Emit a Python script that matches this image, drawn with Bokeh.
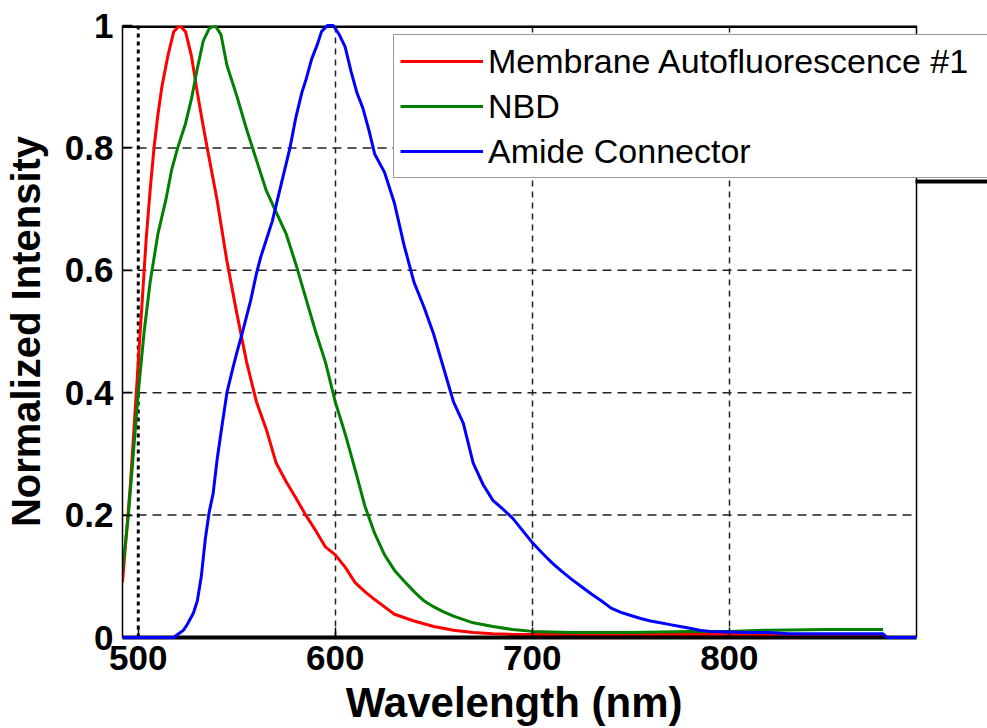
from bokeh.plotting import figure
from bokeh.models import Span, FixedTicker, Legend, LegendItem, BoxAnnotation, Range1d
from bokeh.embed import file_html
from bokeh.resources import INLINE

# ---------------- data ----------------
series_names = ["Membrane Autofluorescence #1", "NBD", "Amide Connector"]

red_wl = [492, 494, 496, 498, 500, 502, 504, 506, 508, 510, 512, 515, 518, 521, 524,
          527, 530, 533, 535, 540, 545, 550, 555, 560, 565, 570, 575, 580, 585, 590,
          595, 600, 605, 610, 615, 620, 625, 630, 640, 650, 660, 670, 680, 690, 700,
          750, 800, 825, 850, 878]
red_val = [0.09, 0.17, 0.25, 0.35, 0.45, 0.55, 0.65, 0.73, 0.80, 0.855, 0.90, 0.95, 0.99, 1.0, 0.99,
           0.95, 0.89, 0.835, 0.80, 0.715, 0.615, 0.53, 0.45, 0.385, 0.34, 0.285, 0.255, 0.228, 0.20, 0.175,
           0.148, 0.135, 0.115, 0.09, 0.075, 0.062, 0.05, 0.038, 0.027, 0.018, 0.012, 0.008, 0.006, 0.005, 0.005,
           0.005, 0.005, 0.005, 0.004, 0.004]

green_wl = [492, 495, 497, 500, 503, 506, 510, 514, 517, 520, 524, 527, 530, 533, 536,
            539, 542, 545, 550, 555, 560, 565, 570, 575, 580, 585, 590, 595, 600, 605,
            610, 615, 620, 625, 630, 635, 640, 645, 650, 655, 660, 670, 680, 690, 700,
            720, 750, 780, 800, 820, 850, 878]
green_val = [0.11, 0.2, 0.28, 0.4, 0.5, 0.58, 0.66, 0.715, 0.765, 0.80, 0.84, 0.88, 0.93, 0.975, 0.995,
             1.0, 0.985, 0.935, 0.885, 0.83, 0.78, 0.73, 0.695, 0.66, 0.61, 0.555, 0.50, 0.45, 0.385, 0.333,
             0.275, 0.215, 0.17, 0.135, 0.11, 0.092, 0.075, 0.06, 0.05, 0.042, 0.035, 0.024, 0.018, 0.013, 0.01,
             0.008, 0.008, 0.01, 0.01, 0.012, 0.013, 0.013]

blue_wl = [492, 518, 520, 523, 525, 528, 530, 532, 534, 536, 538, 540, 542, 545, 548,
           550, 553, 555, 557, 560, 562, 565, 568, 571, 574, 577, 580, 583, 585, 588,
           591, 593, 596, 599, 602, 605, 608, 611, 614, 617, 620, 625, 630, 635, 640,
           645, 650, 655, 660, 665, 670, 675, 680, 685, 690, 695, 700, 705, 710, 715,
           720, 725, 730, 735, 740, 745, 750, 755, 760, 765, 770, 775, 780, 785, 790,
           800, 810, 820, 830, 850, 878, 880, 895]
blue_val = [0, 0, 0.005, 0.012, 0.022, 0.04, 0.06, 0.1, 0.16, 0.205, 0.235, 0.29, 0.335, 0.40, 0.44,
            0.465, 0.50, 0.525, 0.55, 0.595, 0.62, 0.65, 0.68, 0.72, 0.76, 0.80, 0.85, 0.89, 0.91, 0.945,
            0.97, 0.99, 1.0, 1.0, 0.985, 0.965, 0.925, 0.89, 0.865, 0.83, 0.79, 0.76, 0.71, 0.64, 0.58,
            0.54, 0.495, 0.44, 0.385, 0.35, 0.285, 0.25, 0.224, 0.21, 0.195, 0.175, 0.155, 0.138, 0.122, 0.108,
            0.095, 0.083, 0.071, 0.06, 0.048, 0.041, 0.036, 0.031, 0.027, 0.024, 0.021, 0.018, 0.015, 0.012, 0.01,
            0.009, 0.008, 0.008, 0.006, 0.006, 0.006, 0, 0]

x_limits = (492, 895)
y_limits = (0, 1)
x_ticks = [500, 600, 700, 800]
x_tick_labels = ["500", "600", "700", "800"]
x_grid_ticks = [600, 700, 800]
marker_wl = 500
y_ticks = [0, 0.2, 0.4, 0.6, 0.8, 1]
y_tick_labels = ["0", "0.2", "0.4", "0.6", "0.8", "1"]
y_grid_ticks = [0.2, 0.4, 0.6, 0.8]
x_title = "Wavelength (nm)"
y_title = "Normalized Intensity"

FONT = "Liberation Sans"

# layout: axes box spans 122..916 px horizontally; the frame is widened to the
# window edge so the legend can run past the right side of the axes box.
W, H = 987, 728
BOX_LEFT, BOX_RIGHT = 122, 916
view_end = x_limits[0] + (W - BOX_LEFT) * (x_limits[1] - x_limits[0]) / (BOX_RIGHT - BOX_LEFT)

p = figure(width=W, height=H, output_backend="svg", toolbar_location=None,
           x_range=Range1d(x_limits[0], view_end), y_range=Range1d(*y_limits),
           min_border_left=BOX_LEFT, min_border_right=0, min_border_top=25, min_border_bottom=91)
p.background_fill_color = "white"
p.border_fill_color = "white"
p.outline_line_color = None

# grids
p.xgrid.ticker = FixedTicker(ticks=x_grid_ticks)
p.xgrid.grid_line_color = "#222222"
p.xgrid.grid_line_dash = "6 5"
p.xgrid.grid_line_width = 1.5
p.ygrid.visible = False
p.segment(x0=[x_limits[0]] * len(y_grid_ticks), x1=[x_limits[1]] * len(y_grid_ticks),
          y0=y_grid_ticks, y1=y_grid_ticks, line_color="#222222", line_width=1.5,
          line_dash="9 6", level="underlay")

p.add_layout(Span(location=marker_wl, dimension="height", line_color="black",
                  line_width=3, line_dash="4 4", level="underlay"))

# axes
p.xaxis.ticker = FixedTicker(ticks=x_ticks)
p.xaxis.major_label_overrides = dict(zip(x_ticks, x_tick_labels))
p.xaxis.bounds = x_limits
p.yaxis.ticker = FixedTicker(ticks=y_ticks)
p.yaxis.major_label_overrides = dict(zip(y_ticks, y_tick_labels))
for ax in (p.xaxis[0], p.yaxis[0]):
    ax.major_tick_in = 10
    ax.major_tick_out = 0
    ax.minor_tick_line_color = None
    ax.major_tick_line_color = "black"
    ax.major_tick_line_width = 1.5
    ax.major_label_text_font = FONT
    ax.major_label_text_font_style = "bold"
    ax.major_label_text_font_size = "35px"
    ax.major_label_text_color = "black"
    ax.axis_line_color = "black"
    ax.axis_label_text_font = FONT
    ax.axis_label_text_font_style = "bold"
    ax.axis_label_text_color = "black"
p.xaxis.axis_line_width = 4
p.yaxis.axis_line_width = 1.5
p.xaxis.major_label_standoff = 8
p.yaxis.major_label_standoff = 9

p.yaxis.axis_label = y_title
p.yaxis.axis_label_text_font_size = "40px"
p.yaxis.axis_label_standoff = 14
# the frame runs on past the axes box, so trailing no-break spaces pull the
# centred title back over the middle of the axes box
p.xaxis.axis_label = x_title + "\u00a0" * 7
p.xaxis.axis_label_text_font_size = "42px"
p.xaxis.axis_label_standoff = 6

# top and right edges of the axes box
p.segment(x0=[x_limits[0]], x1=[x_limits[1]], y0=[y_limits[1]], y1=[y_limits[1]],
          line_color="black", line_width=5)
p.segment(x0=[x_limits[1]], x1=[x_limits[1]], y0=[y_limits[0]], y1=[y_limits[1]],
          line_color="black", line_width=1.5)

# data
r1 = p.line(red_wl, red_val, line_color="#ff0000", line_width=3)
r2 = p.line(green_wl, green_val, line_color="#008000", line_width=3)
r3 = p.line(blue_wl, blue_val, line_color="#0000ff", line_width=3, level="annotation")

legend = Legend(items=[LegendItem(label=series_names[0], renderers=[r1]),
                       LegendItem(label=series_names[1], renderers=[r2]),
                       LegendItem(label=series_names[2], renderers=[r3])],
                location=(271, 459))
legend.label_text_font = FONT
legend.label_text_font_size = "34px"
legend.label_text_color = "black"
legend.glyph_width = 83
legend.glyph_height = 40
legend.label_height = 40
legend.label_width = 520
legend.spacing = 5
legend.padding = 6
legend.margin = 0
legend.label_standoff = 5
legend.border_line_color = "#333333"
legend.border_line_width = 1
legend.background_fill_color = "white"
legend.background_fill_alpha = 1
p.add_layout(legend)

# heavy edge drawn under the legend's right part
p.add_layout(BoxAnnotation(left=915, right=990, top=179, bottom=183,
                           left_units="canvas", right_units="canvas",
                           top_units="canvas", bottom_units="canvas",
                           fill_color="black", fill_alpha=1, line_color=None))

open("out.html", "w").write(file_html(p, INLINE))
